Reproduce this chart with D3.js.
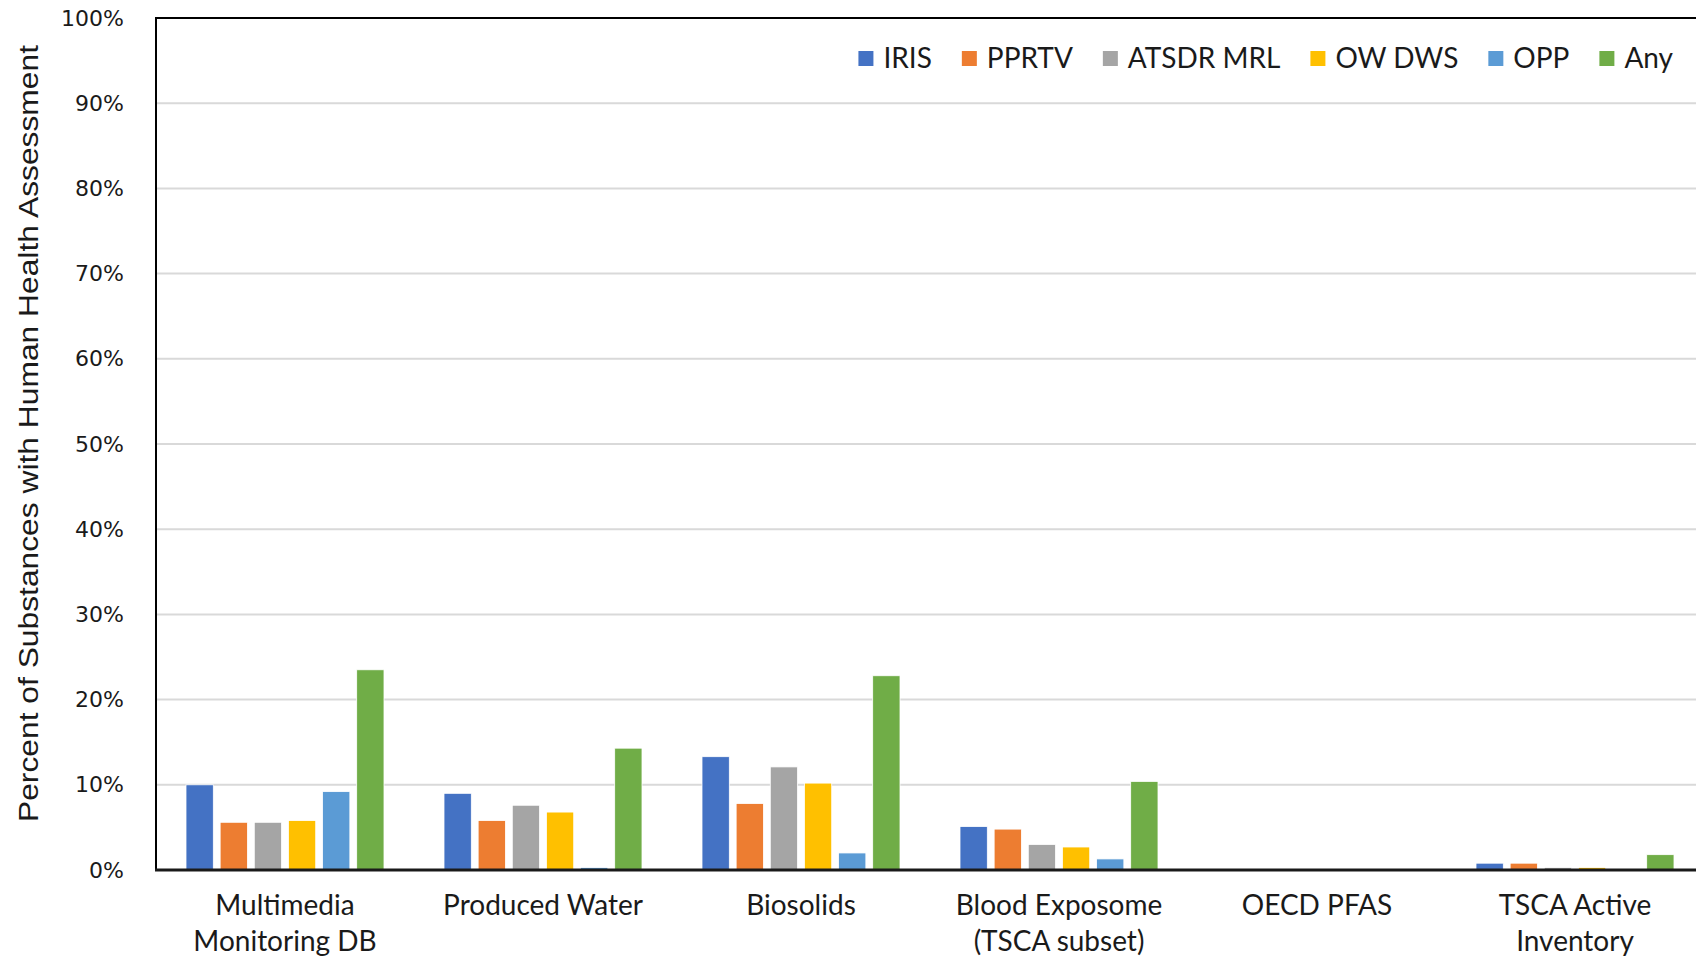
<!DOCTYPE html>
<html>
<head>
<meta charset="utf-8">
<script src="https://cdn.jsdelivr.net/npm/d3@7"></script>
<style>
  body { margin: 0; background: #fff; overflow: hidden; }
  .tick-label { font-family: "DejaVu Sans", sans-serif; font-size: 22px; fill: #1a1a1a; }
  .cat-label { font-family: Lato, "Open Sans", sans-serif; font-size: 28px; fill: #1a1a1a; }
  .legend-label { font-family: Lato, "Open Sans", sans-serif; font-size: 28px; fill: #1a1a1a; }
  .axis-title { font-family: "Liberation Sans Narrow", "Liberation Sans", sans-serif; font-size: 27px; fill: #1a1a1a; }
</style>
</head>
<body>
<svg id="chart"></svg>
<script>
// categories (x axis), two lines where the label wraps
const categories = ['Multimedia Monitoring DB', 'Produced Water', 'Biosolids',
                    'Blood Exposome (TSCA subset)', 'OECD PFAS', 'TSCA Active Inventory'];
const categoryLines = [['Multimedia', 'Monitoring DB'], ['Produced Water'], ['Biosolids'],
                       ['Blood Exposome', '(TSCA subset)'], ['OECD PFAS'], ['TSCA Active', 'Inventory']];

// series names and colours
const seriesNames = ['IRIS', 'PPRTV', 'ATSDR MRL', 'OW DWS', 'OPP', 'Any'];
const seriesColors = ['#4472C4', '#ED7D31', '#A5A5A5', '#FFC000', '#5B9BD5', '#70AD47'];

// percent values, one array per series (order follows categories)
const iris   = [10.0, 9.0, 13.3, 5.1, 0.03, 0.8];
const pprtv  = [5.6, 5.8, 7.8, 4.8, 0.03, 0.8];
const atsdr  = [5.6, 7.6, 12.1, 3.0, 0.03, 0.3];
const owdws  = [5.8, 6.8, 10.2, 2.7, 0.03, 0.3];
const opp    = [9.2, 0.3, 2.0, 1.3, 0.0, 0.0];
const anyHHA = [23.5, 14.3, 22.8, 10.4, 0.05, 1.8];
const seriesValues = [iris, pprtv, atsdr, owdws, opp, anyHHA];

// y ticks
const yTicks = [0, 10, 20, 30, 40, 50, 60, 70, 80, 90, 100];

const width = 1696, height = 959;
const plot = { left: 156, top: 18, right: 1704, bottom: 870 };

const svg = d3.select('#chart')
    .attr('width', width)
    .attr('height', height);

const xScale = d3.scaleBand()
    .domain(categories)
    .range([plot.left, plot.right])
    .padding(0);

const groupPad = 30;
const xInner = d3.scaleBand()
    .domain(seriesNames)
    .range([groupPad, xScale.bandwidth() - groupPad])
    .paddingInner(0.2);

const yScale = d3.scaleLinear()
    .domain([0, 100])
    .range([plot.bottom, plot.top]);

// gridlines
svg.append('g')
    .selectAll('line')
    .data(yTicks.filter(t => t > 0 && t < 100))
    .enter()
    .append('line')
    .attr('x1', plot.left)
    .attr('x2', width)
    .attr('y1', d => yScale(d))
    .attr('y2', d => yScale(d))
    .attr('stroke', '#d9d9d9')
    .attr('stroke-width', 2);

// y tick labels via axis
const yAxis = svg.append('g')
    .attr('transform', `translate(${plot.left},0)`)
    .call(d3.axisLeft(yScale).tickValues(yTicks).tickSize(0).tickPadding(32).tickFormat(d => d + '%'));
yAxis.select('.domain').remove();
yAxis.attr('font-size', null).attr('font-family', null);
yAxis.selectAll('text')
    .attr('class', 'tick-label')
    .attr('fill', null);

// bars
const rows = categories.map((c, i) => ({
    category: c,
    values: seriesNames.map((s, j) => ({ series: s, value: seriesValues[j][i], color: seriesColors[j] }))
}));

const groups = svg.append('g')
    .selectAll('g')
    .data(rows)
    .enter()
    .append('g')
    .attr('transform', d => `translate(${xScale(d.category)},0)`);

groups.selectAll('rect')
    .data(d => d.values)
    .enter()
    .append('rect')
    .attr('x', d => xInner(d.series))
    .attr('y', d => yScale(d.value))
    .attr('width', xInner.bandwidth())
    .attr('height', d => plot.bottom - yScale(d.value))
    .attr('fill', d => d.color)
    .attr('stroke', '#ffffff')
    .attr('stroke-width', 0.8);

// plot frame: left, top, bottom axis
svg.append('line')
    .attr('x1', plot.left).attr('x2', plot.left)
    .attr('y1', plot.top).attr('y2', plot.bottom)
    .attr('stroke', '#000').attr('stroke-width', 2);
svg.append('line')
    .attr('x1', plot.left - 1).attr('x2', width)
    .attr('y1', plot.top).attr('y2', plot.top)
    .attr('stroke', '#000').attr('stroke-width', 2);
svg.append('line')
    .attr('x1', plot.left - 1).attr('x2', width)
    .attr('y1', plot.bottom).attr('y2', plot.bottom)
    .attr('stroke', '#1a1a1a').attr('stroke-width', 3);

// category labels
const catLabels = svg.append('g')
    .selectAll('text')
    .data(categories)
    .enter()
    .append('text')
    .attr('class', 'cat-label')
    .attr('text-anchor', 'middle')
    .attr('x', d => xScale(d) + xScale.bandwidth() / 2)
    .attr('y', 915);
catLabels.selectAll('tspan')
    .data((d, i) => categoryLines[i])
    .enter()
    .append('tspan')
    .attr('x', function() { return d3.select(this.parentNode).attr('x'); })
    .attr('dy', (d, i) => i === 0 ? 0 : 36)
    .text(d => d);

// y axis title
svg.append('text')
    .attr('class', 'axis-title')
    .attr('transform', `translate(38,${(45 + 822) / 2}) rotate(-90)`)
    .attr('text-anchor', 'middle')
    .attr('textLength', 777)
    .attr('lengthAdjust', 'spacingAndGlyphs')
    .text('Percent of Substances with Human Health Assessment');

// legend, right aligned
const legend = svg.append('g');
const items = legend.selectAll('g')
    .data(seriesNames.map((s, i) => ({ name: s, color: seriesColors[i] })))
    .enter()
    .append('g');
items.append('rect')
    .attr('width', 15).attr('height', 15)
    .attr('y', 51)
    .attr('fill', d => d.color);
items.append('text')
    .attr('class', 'legend-label')
    .attr('x', 25)
    .attr('y', 68)
    .text(d => d.name);

let xPos = 1673;
const nodes = items.nodes().reverse();
nodes.forEach(node => {
    const w = d3.select(node).select('text').node().getComputedTextLength();
    xPos -= (25 + w);
    d3.select(node).attr('transform', `translate(${xPos},0)`);
    xPos -= 30;
});
</script>
</body>
</html>
